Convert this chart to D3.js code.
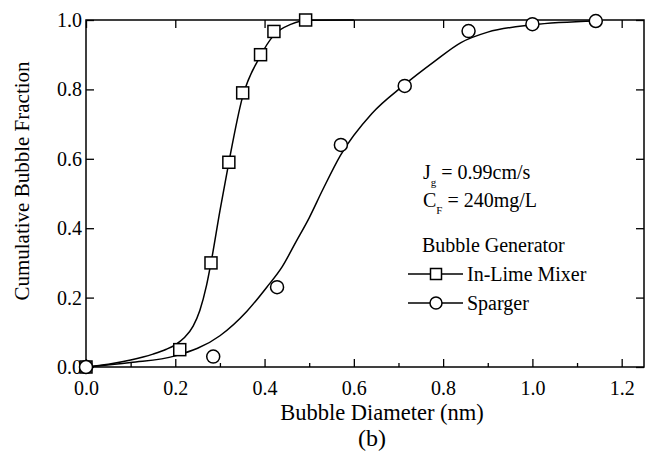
<!DOCTYPE html>
<html>
<head>
<meta charset="utf-8">
<script src="https://cdn.jsdelivr.net/npm/d3@7"></script>
<style>
  body { margin: 0; background: #fff; }
</style>
</head>
<body>
<div class="chart"></div>
<script>
// measured points (bubble diameter, cumulative fraction)
const mixerX = [0.0, 0.21, 0.28, 0.32, 0.351, 0.391, 0.421, 0.492]
const mixerY = [0.0, 0.05, 0.30, 0.59, 0.79, 0.90, 0.967, 1.0]
const spargerX = [0.0, 0.285, 0.428, 0.571, 0.714, 0.857, 1.0, 1.142]
const spargerY = [0.0, 0.03, 0.23, 0.64, 0.81, 0.968, 0.988, 0.997]

// fitted curves
const mixerFitX = [0.0, 0.05, 0.1, 0.15, 0.18, 0.2, 0.22, 0.24, 0.255, 0.27, 0.28, 0.30, 0.32, 0.35, 0.39, 0.42, 0.46, 0.50, 0.60]
const mixerFitY = [0.0, 0.008, 0.02, 0.037, 0.051, 0.064, 0.084, 0.118, 0.163, 0.235, 0.30, 0.45, 0.59, 0.775, 0.895, 0.955, 0.988, 0.999, 1.0]
const spargerFitX = [0.0, 0.1, 0.2, 0.3, 0.36, 0.405, 0.44, 0.47, 0.5, 0.53, 0.57, 0.64, 0.71, 0.78, 0.84, 0.9, 1.0, 1.142]
const spargerFitY = [0.0, 0.013, 0.032, 0.09, 0.16, 0.23, 0.29, 0.36, 0.43, 0.51, 0.61, 0.73, 0.81, 0.88, 0.935, 0.965, 0.986, 0.997]

const xTicks = [0.0, 0.2, 0.4, 0.6, 0.8, 1.0, 1.2]
const xMinor = [0.1, 0.3, 0.5, 0.7, 0.9, 1.1]
const yTicks = [0.0, 0.2, 0.4, 0.6, 0.8, 1.0]

const width = 647, height = 459
const margin = {top: 20, right: 3, bottom: 92, left: 86}
const serif = '"Liberation Serif"'

const svg = d3.select(".chart")
  .append("svg")
    .attr("width", width)
    .attr("height", height)

const x = d3.scaleLinear().domain([0, 1.25]).range([margin.left, width - margin.right])
const y = d3.scaleLinear().domain([0, 1]).range([height - margin.bottom, margin.top])

// frame
svg.append("rect")
  .attr("x", x(0)).attr("y", y(1))
  .attr("width", x(1.25) - x(0)).attr("height", y(0) - y(1))
  .attr("fill", "none").attr("stroke", "#000").attr("stroke-width", 1.5)

// axes, ticks pointing inward
const fmt = d3.format(".1f")
svg.append("g")
  .attr("transform", `translate(0,${y(0)})`)
  .call(d3.axisBottom(x).tickValues(xTicks).tickFormat(fmt).tickSizeInner(-8).tickSizeOuter(0).tickPadding(14))
svg.append("g")
  .attr("transform", `translate(0,${y(0)})`)
  .call(d3.axisBottom(x).tickValues(xMinor).tickFormat("").tickSizeInner(-4).tickSizeOuter(0))
svg.append("g")
  .attr("transform", `translate(0,${y(1)})`)
  .call(d3.axisTop(x).tickValues(xTicks).tickFormat("").tickSizeInner(-8).tickSizeOuter(0))
svg.append("g")
  .attr("transform", `translate(${x(0)},0)`)
  .call(d3.axisLeft(y).tickValues(yTicks).tickFormat(fmt).tickSizeInner(-8).tickSizeOuter(0).tickPadding(4))
svg.append("g")
  .attr("transform", `translate(${x(1.25)},0)`)
  .call(d3.axisRight(y).tickValues(yTicks).tickFormat("").tickSizeInner(-8).tickSizeOuter(0))

svg.selectAll(".domain").attr("stroke", "none")
svg.selectAll(".tick line").attr("stroke", "#000").attr("stroke-width", 1.3)
svg.selectAll(".tick text")
  .style("font-family", serif)
  .style("font-size", "20px")
  .attr("fill", "#000")

// fitted curves
const line = d3.line().x(d => x(d[0])).y(d => y(d[1])).curve(d3.curveMonotoneX)
const mixerFit = d3.zip(mixerFitX, mixerFitY)
const spargerFit = d3.zip(spargerFitX, spargerFitY)
svg.append("path").datum(mixerFit)
  .attr("d", line).attr("fill", "none").attr("stroke", "#000").attr("stroke-width", 1.5)
svg.append("path").datum(spargerFit)
  .attr("d", line).attr("fill", "none").attr("stroke", "#000").attr("stroke-width", 1.5)

// markers
const sq = 12
svg.selectAll(".sq")
  .data(d3.zip(mixerX, mixerY))
  .join("rect")
    .attr("x", d => x(d[0]) - sq / 2)
    .attr("y", d => y(d[1]) - sq / 2)
    .attr("width", sq).attr("height", sq)
    .attr("fill", "#fff").attr("stroke", "#000").attr("stroke-width", 1.5)
svg.selectAll(".ci")
  .data(d3.zip(spargerX, spargerY))
  .join("circle")
    .attr("cx", d => x(d[0]))
    .attr("cy", d => y(d[1]))
    .attr("r", 6.5)
    .attr("fill", "#fff").attr("stroke", "#000").attr("stroke-width", 1.5)

function label(sel, size) {
  return sel.style("font-family", serif).style("font-size", size + "px").attr("fill", "#000")
}

// axis titles
label(svg.append("text"), 22.5)
  .attr("x", 382).attr("y", 420)
  .attr("text-anchor", "middle")
  .text("Bubble Diameter (nm)")
label(svg.append("text"), 24)
  .attr("x", 372).attr("y", 446)
  .attr("text-anchor", "middle")
  .text("(b)")
label(svg.append("text"), 21)
  .attr("transform", "translate(29,181) rotate(-90)")
  .attr("text-anchor", "middle")
  .text("Cumulative Bubble Fraction")

// annotation
const t1 = label(svg.append("text"), 20).attr("x", 423).attr("y", 179)
t1.append("tspan").text("J")
t1.append("tspan").style("font-size", "11px").attr("dy", 7).text("g")
t1.append("tspan").attr("dy", -7).text(" = 0.99cm/s")
const t2 = label(svg.append("text"), 20).attr("x", 423).attr("y", 207)
t2.append("tspan").text("C")
t2.append("tspan").style("font-size", "11px").attr("dy", 7).text("F")
t2.append("tspan").attr("dy", -7).text(" = 240mg/L")
label(svg.append("text"), 20).attr("x", 422).attr("y", 252).text("Bubble Generator")

// legend
const legend = svg.append("g")
const items = [
  {name: "In-Lime Mixer", shape: "square", yy: 274},
  {name: "Sparger", shape: "circle", yy: 303}
]
items.forEach(it => {
  legend.append("line")
    .attr("x1", 408).attr("x2", 463).attr("y1", it.yy).attr("y2", it.yy)
    .attr("stroke", "#000").attr("stroke-width", 1.5)
  if (it.shape === "square") {
    legend.append("rect").attr("x", 436 - 5.5).attr("y", it.yy - 5.5)
      .attr("width", 11).attr("height", 11)
      .attr("fill", "#fff").attr("stroke", "#000").attr("stroke-width", 1.5)
  } else {
    legend.append("circle").attr("cx", 436).attr("cy", it.yy).attr("r", 6)
      .attr("fill", "#fff").attr("stroke", "#000").attr("stroke-width", 1.5)
  }
  label(legend.append("text"), 20).attr("x", 467).attr("y", it.yy + 7).text(it.name)
})
</script>
</body>
</html>
